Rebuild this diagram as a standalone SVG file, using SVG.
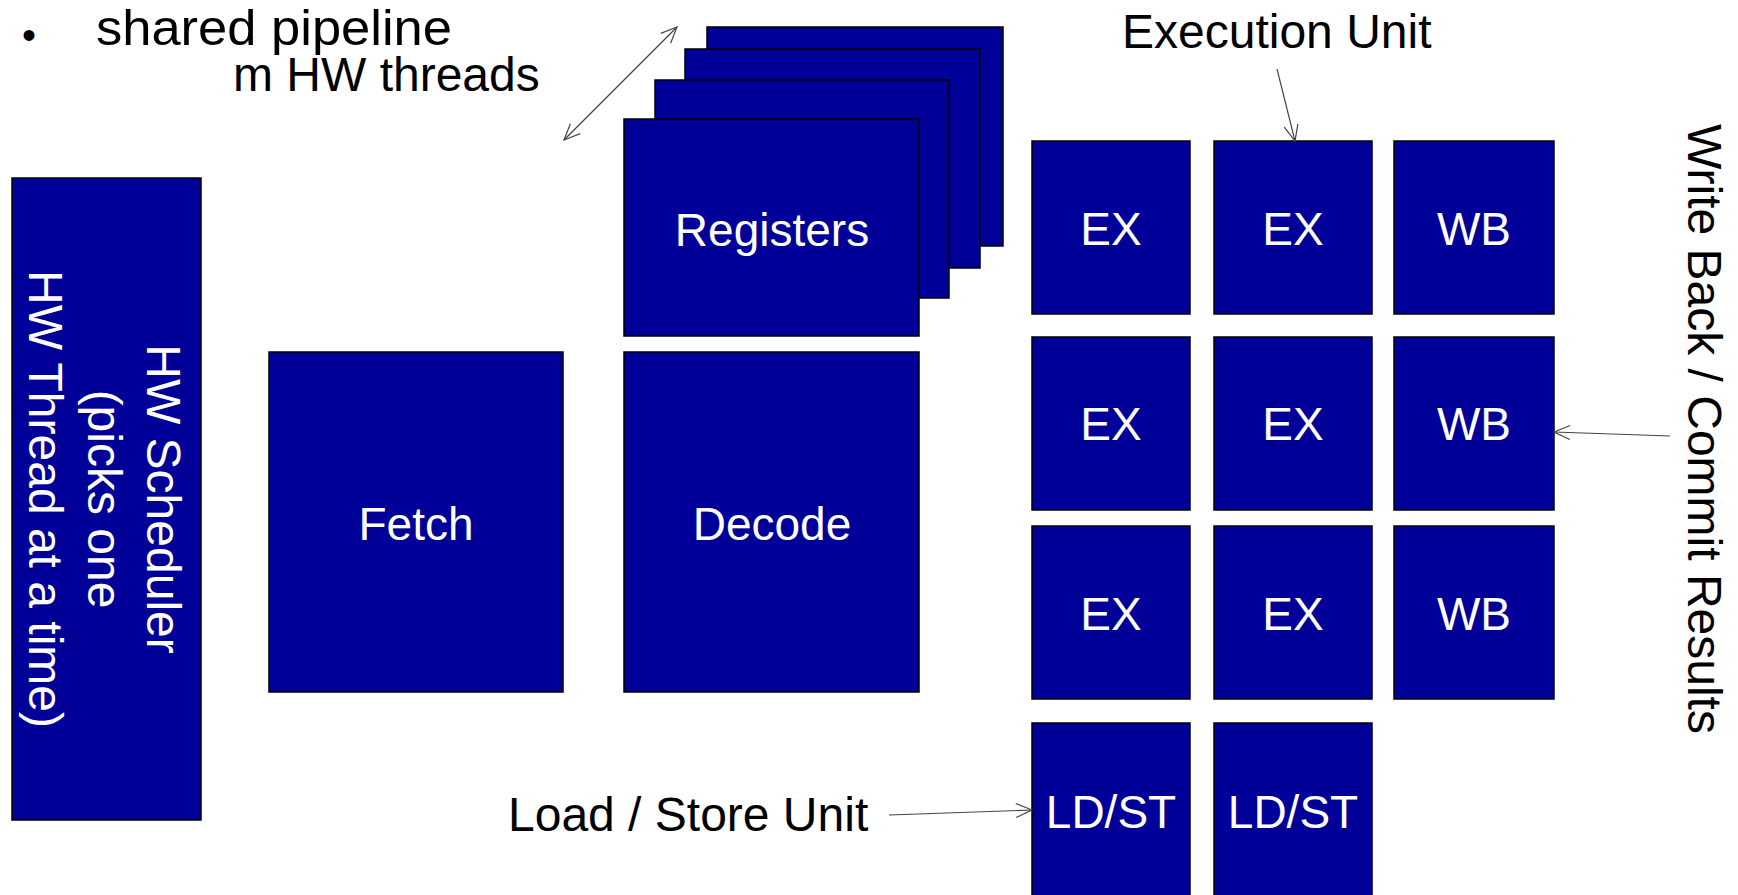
<svg xmlns="http://www.w3.org/2000/svg" width="1738" height="895" viewBox="0 0 1738 895">
<style>
.box{fill:#000099;stroke:#000;stroke-width:1.5}
.lbl{font-family:"Liberation Sans",Arial,sans-serif;font-size:46px;fill:#fff;text-anchor:middle}
.txt{font-family:"Liberation Sans",Arial,sans-serif;font-size:48px;fill:#000}
.conn{fill:none;stroke:#444;stroke-width:1.2}
</style>
<defs>
<marker id="ah" markerUnits="userSpaceOnUse" markerWidth="24" markerHeight="24" refX="18" refY="12" orient="auto-start-reverse" viewBox="0 0 24 24">
<path d="M2,5 L18,12 L2,19" fill="none" stroke="#444" stroke-width="1.2"/>
</marker>
</defs>
<rect width="1738" height="895" fill="#fff"/>

<g id="bullet-text">
<text class="txt" x="22" y="49" style="font-size:40px">•</text>
<text class="txt" x="96" y="45" style="font-size:50px" textLength="356" lengthAdjust="spacingAndGlyphs">shared pipeline</text>
<text class="txt" x="233" y="91">m HW threads</text>
</g>

<g id="hw-scheduler">
<rect class="box" x="12" y="178" width="189" height="642"/>
<text class="lbl" transform="translate(147,499) rotate(90)" style="font-size:48px"><tspan x="0" y="0">HW Scheduler</tspan><tspan x="0" y="59">(picks one</tspan><tspan x="0" y="118">HW Thread at a time)</tspan></text>
</g>

<g id="fetch">
<rect class="box" x="269" y="352" width="294" height="340"/>
<text class="lbl" x="416" y="540">Fetch</text>
</g>

<g id="decode">
<rect class="box" x="624" y="352" width="295" height="340"/>
<text class="lbl" x="772" y="540">Decode</text>
</g>

<g id="registers">
<rect class="box" x="707" y="27" width="296" height="219"/>
<rect class="box" x="685" y="49" width="295" height="219"/>
<rect class="box" x="655" y="80" width="294" height="218"/>
<rect class="box" x="624" y="119" width="295" height="217"/>
<text class="lbl" x="772" y="246">Registers</text>
</g>

<g id="ex-1-1"><rect class="box" x="1032" y="141" width="158" height="173"/><text class="lbl" x="1111" y="245">EX</text></g>
<g id="ex-1-2"><rect class="box" x="1214" y="141" width="158" height="173"/><text class="lbl" x="1293" y="245">EX</text></g>
<g id="wb-1"><rect class="box" x="1394" y="141" width="160" height="173"/><text class="lbl" x="1474" y="245">WB</text></g>

<g id="ex-2-1"><rect class="box" x="1032" y="337" width="158" height="173"/><text class="lbl" x="1111" y="440">EX</text></g>
<g id="ex-2-2"><rect class="box" x="1214" y="337" width="158" height="173"/><text class="lbl" x="1293" y="440">EX</text></g>
<g id="wb-2"><rect class="box" x="1394" y="337" width="160" height="173"/><text class="lbl" x="1474" y="440">WB</text></g>

<g id="ex-3-1"><rect class="box" x="1032" y="526" width="158" height="173"/><text class="lbl" x="1111" y="630">EX</text></g>
<g id="ex-3-2"><rect class="box" x="1214" y="526" width="158" height="173"/><text class="lbl" x="1293" y="630">EX</text></g>
<g id="wb-3"><rect class="box" x="1394" y="526" width="160" height="173"/><text class="lbl" x="1474" y="630">WB</text></g>

<g id="ldst-1"><rect class="box" x="1032" y="723" width="158" height="180"/><text class="lbl" x="1111" y="828">LD/ST</text></g>
<g id="ldst-2"><rect class="box" x="1214" y="723" width="158" height="180"/><text class="lbl" x="1293" y="828">LD/ST</text></g>

<g id="labels">
<text class="txt" x="1122" y="48">Execution Unit</text>
<text class="txt" x="508" y="831">Load / Store Unit</text>
<text class="txt" transform="translate(1688,429) rotate(90)" style="text-anchor:middle">Write Back / Commit Results</text>
</g>

<g id="connectors">
<line class="conn" x1="564" y1="140" x2="677" y2="27" marker-start="url(#ah)" marker-end="url(#ah)"/>
<line class="conn" x1="1277" y1="69" x2="1295" y2="141" marker-end="url(#ah)"/>
<line class="conn" x1="1670" y1="436" x2="1554" y2="432" marker-end="url(#ah)"/>
<line class="conn" x1="889" y1="815" x2="1032" y2="810" marker-end="url(#ah)"/>
</g>
</svg>
